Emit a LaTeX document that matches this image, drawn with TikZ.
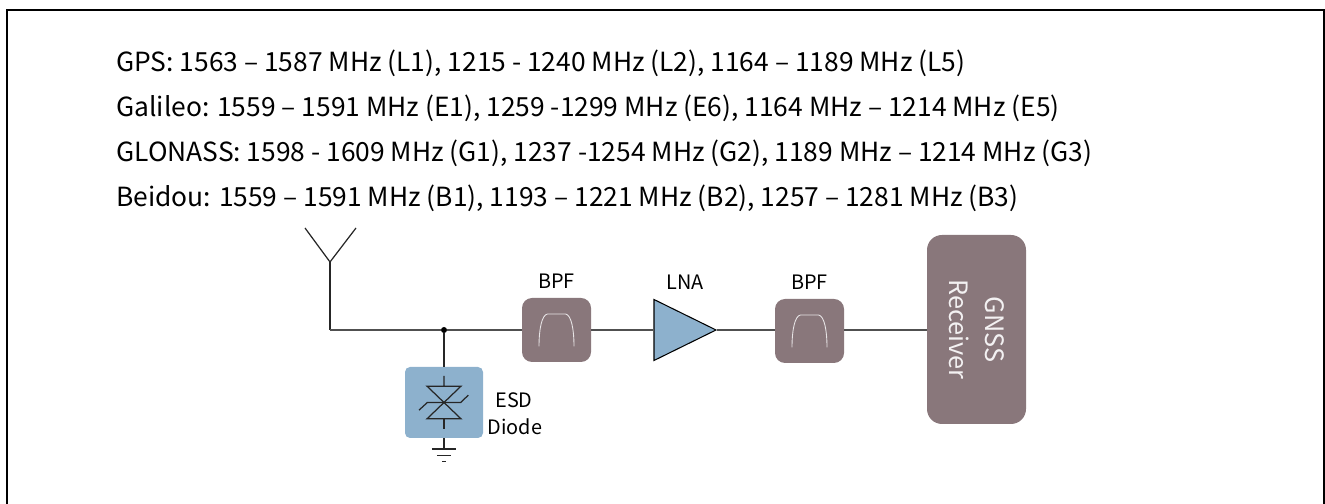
\documentclass[tikz,border=0pt]{standalone}
\usepackage{fontspec}
\setmainfont{Noto Sans CJK SC}
\usetikzlibrary{shapes.geometric}
\definecolor{boxgrey}{HTML}{89777B}
\definecolor{boxblue}{HTML}{8DB1CD}
\definecolor{wiregrey}{HTML}{505050}
\tikzset{
  bandline/.style={anchor=base west, inner sep=0pt, font=\fontsize{15pt}{18pt}\selectfont},
  blocklabel/.style={inner sep=0pt, font=\fontsize{11.3pt}{13pt}\selectfont},
  filterbox/.style={fill=boxgrey, rounded corners=0.2cm, minimum width=1.38cm, minimum height=1.28cm, inner sep=0pt},
  wire/.style={draw=wiregrey, line width=1pt},
  passband/.style={draw=white!80!boxgrey, line width=0.5pt},
  symbolline/.style={draw=black!85, line width=0.7pt}
}
\begin{document}
\begin{tikzpicture}
  \useasboundingbox (0,0) rectangle (26.5,10.08);
  % frame, open at the bottom
  \draw[black, line width=1.3pt] (0.14,0) -- (0.14,9.88) -- (26.48,9.88) -- (26.48,0);
  % band list
  \node[bandline] (gps) at (2.32,8.64) {GPS: 1563 – 1587 MHz (L1), 1215 - 1240 MHz (L2), 1164 – 1189 MHz (L5)};
  \node[bandline] (galileo) at (2.32,7.74) {Galileo: 1559 – 1591 MHz (E1), 1259 -1299 MHz (E6), 1164 MHz – 1214 MHz (E5)};
  \node[bandline] (glonass) at (2.32,6.84) {GLONASS: 1598 - 1609 MHz (G1), 1237 -1254 MHz (G2), 1189 MHz – 1214 MHz (G3)};
  \node[bandline] (beidou) at (2.32,5.94) {Beidou: 1559 – 1591 MHz (B1), 1193 – 1221 MHz (B2), 1257 – 1281 MHz (B3)};
  % antenna
  \coordinate (antleft) at (6.1,5.52);
  \coordinate (antright) at (7.12,5.52);
  \coordinate (antfoot) at (6.6,4.84);
  \coordinate (antcorner) at (6.6,3.48);
  \draw[symbolline] (antleft) -- (antfoot) -- (antright);
  % blocks
  \node[filterbox] (bpfa) at (11.13,3.48) {};
  \node[isosceles triangle, isosceles triangle apex angle=53, isosceles triangle stretches, draw=black, fill=boxblue, line width=0.6pt, minimum width=1.22cm, minimum height=1.24cm, inner sep=0pt] (lna) at (13.46,3.48) {};
  \node[filterbox] (bpfb) at (16.19,3.46) {};
  \node[fill=boxgrey, text=white!90!boxgrey, rounded corners=0.3cm, rotate=-90, align=center, minimum width=3.78cm, minimum height=1.98cm, inner sep=0pt, font=\fontsize{14.4pt}{20.4pt}\selectfont] (rx) at (19.53,3.49) {GNSS\\Receiver};
  \node[fill=boxblue, rounded corners=0.1cm, minimum width=1.56cm, minimum height=1.42cm, inner sep=0pt] (esd) at (8.88,2.03) {};
  \node[circle, fill=black, minimum size=0.12cm, inner sep=0pt] (tee) at (8.88,3.48) {};
  \coordinate (gnd) at (8.88,1.1);
  % labels
  \node[blocklabel] (bpfalabel) at (11.13,4.46) {BPF};
  \node[blocklabel] (lnalabel) at (13.7,4.44) {LNA};
  \node[blocklabel] (bpfblabel) at (16.19,4.44) {BPF};
  \node[blocklabel] (esdlabel) at (10.28,2.08) {ESD};
  \node[blocklabel] (diodelabel) at (10.3,1.54) {Diode};
  % wires
  \draw[symbolline] (antfoot) -- (antcorner);
  \draw[wire] (antcorner) -- (tee) -- (bpfa.west);
  \draw[wire] (bpfa.east) -- (lna.west);
  \draw[wire] (lna.apex) -- (lna.apex -| bpfb.west);
  \draw[wire] (bpfb.east |- lna.apex) -- (lna.apex -| rx.south);
  \draw[symbolline] (tee) -- (esd.north);
  \draw[symbolline] (esd.south) -- (gnd);
  % ground
  \draw[symbolline] ([xshift=-0.243cm]gnd) -- ([xshift=0.243cm]gnd);
  \draw[symbolline] ([xshift=-0.143cm,yshift=-0.127cm]gnd) -- ([xshift=0.143cm,yshift=-0.127cm]gnd);
  \draw[symbolline] ([xshift=-0.04cm,yshift=-0.247cm]gnd) -- ([xshift=0.04cm,yshift=-0.247cm]gnd);
  % passband curves
  \foreach \f in {bpfa,bpfb} {
    \draw[passband, shift={(\f)}] (-0.35,-0.33) .. controls (-0.35,0) and (-0.3,0.3) .. (-0.18,0.32)
      -- (0.18,0.32) .. controls (0.3,0.3) and (0.35,0) .. (0.35,-0.33);
  }
  % diode pair
  \draw[symbolline, shift={(esd)}] (0,0.53) -- (0,0.327) (-0.34,0.327) -- (0.34,0.327) -- (-0.34,-0.327) -- (0.34,-0.327) -- cycle;
  \draw[symbolline, shift={(esd)}] (0,-0.327) -- (0,-0.53);
  \draw[symbolline, shift={(esd)}] (-0.5,-0.153) -- (-0.333,0) -- (0.333,0) -- (0.487,0.147);
\end{tikzpicture}
\end{document}
